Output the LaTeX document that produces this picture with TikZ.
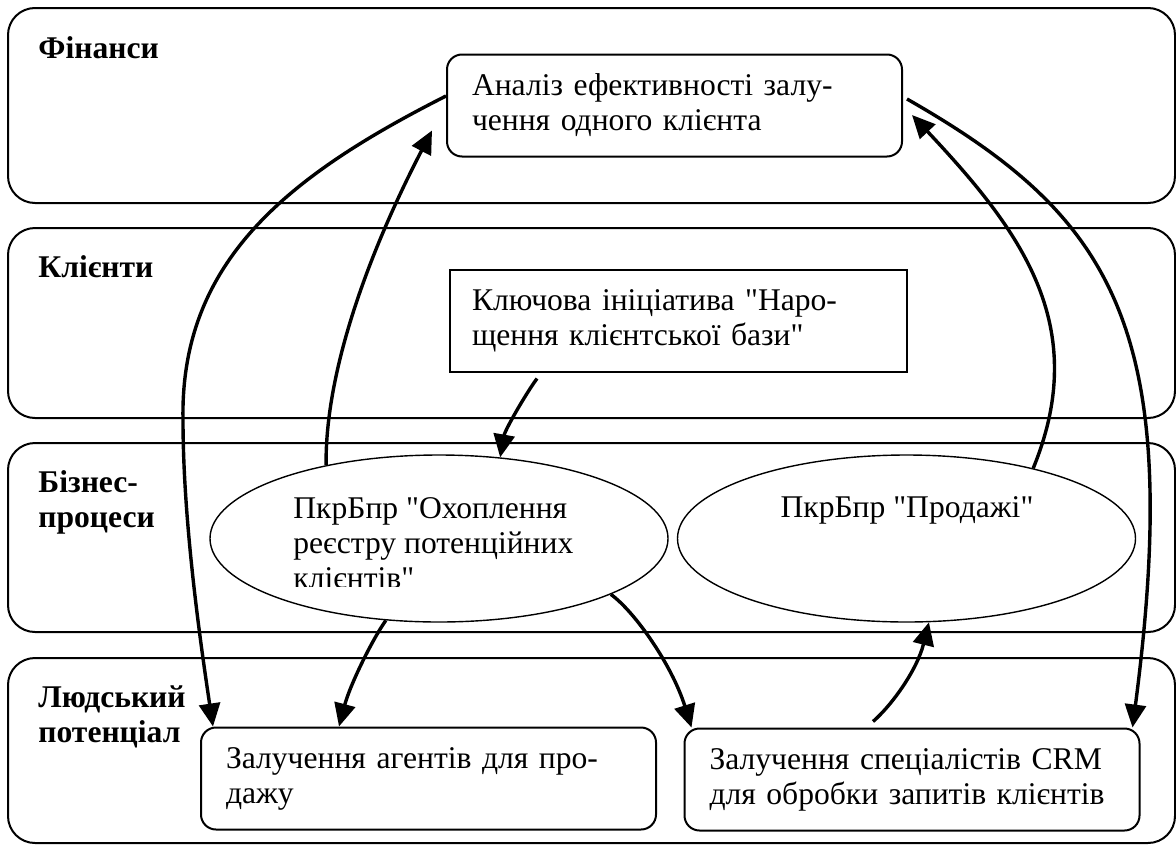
\documentclass[tikz,border=0pt]{standalone}
\usepackage{fontspec}
\setmainfont{Liberation Serif}[Ligatures=TeXOff]
\usepackage{tikz}
\usetikzlibrary{positioning,arrows.meta,shapes.geometric}

\def\txtsize{\fontsize{15.8}{17.5}\selectfont}
\tikzset{
  lane/.style={draw, line width=1pt, rounded corners=13.5pt},
  lanename/.style={anchor=base west, inner sep=0pt, align=left, font=\txtsize\bfseries},
  goal/.style={draw, line width=1pt, rounded corners=7.5pt, inner xsep=12.5pt,
    text width=202.5pt, minimum height=51pt, align=left, font=\txtsize},
  initiative/.style={goal, rounded corners=0pt, inner xsep=11pt, text width=206.5pt},
  process/.style={ellipse, draw, line width=0.7pt, minimum width=229pt,
    minimum height=83.5pt, inner sep=0pt},
  flow/.style={-{Triangle[length=11.5pt,width=10.5pt]}, line width=1.7pt}
}

\begin{document}
\begin{tikzpicture}[x=0.5pt,y=-0.5pt]
\useasboundingbox (0,0) rectangle (1176,846);
  \draw[lane] (8,8) rectangle (1175,203);
  \draw[lane] (8,228) rectangle (1175,418);
  \draw[lane] (8,443) rectangle (1175,632);
  \draw[lane] (8,658) rectangle (1175,843);
  \node[lanename] (finLbl) at (38,58) {Фінанси};
  \node[lanename] (cliLbl) at (38,277) {Клієнти};
  \node[lanename] (bpLbl) at (38,527) {Бізнес-\\процеси};
  \node[lanename] (hrLbl) at (38,742) {Людський\\потенціал};

  \node[goal] (fin) at (674.5,105.5) {Аналіз ефективності залу-\\чення одного клієнта};
  \node[initiative] (key) at (678.5,320.5) {Ключова ініціатива "Наро-\\щення клієнтської бази"};
  \node[process] (ell1) at (439,538.5) {};
  \node[process] (ell2) at (906.5,538.5) {};
  \begin{scope}
    \clip (200,440) rectangle (680,586);
    \node[anchor=base west, inner sep=0pt, align=left, font=\txtsize] (ell1txt) at (293,588)
      {ПкрБпр "Охоплення\\реєстру потенційних\\клієнтів"};
  \end{scope}
  \node[anchor=base, inner sep=0pt, font=\txtsize] (ell2txt) at (907,517) {ПкрБпр "Продажі"};
  \node[goal] (agent) at (428.5,778.5) {Залучення агентів для про-\\дажу};
  \node[goal] (crm) at (912,779.5) {Залучення спеціалістів CRM\\для обробки запитів клієнтів};

  \draw[flow] ([yshift=4.75pt]fin.west) .. controls (290,175) and (180,260) .. (183,420)
    .. controls (183,520) and (200,640) .. ([xshift=6.5pt]agent.north west);
  \draw[flow] (ell1.147) .. controls (325,370) and (370,250) .. ([xshift=-7pt,yshift=13.5pt]fin.south west);
  \draw[flow] ([xshift=44pt,yshift=-3pt]key.south west) .. controls (525,395) and (505,430) .. (ell1.53);
  \draw[flow] (ell1.237) .. controls (372,640) and (350,685) .. ([xshift=-44.75pt]agent.north);
  \draw[flow] (ell1.342) .. controls (635,612) and (672,665) .. ([xshift=4pt]crm.north west);
  \draw[flow] ([xshift=-19.5pt,yshift=3pt]crm.north) .. controls (892,705) and (917,670) .. (ell2.285);
  \draw[flow] (ell2.29) .. controls (1092,325) and (1020,230) .. ([xshift=4.5pt,yshift=-4.75pt]fin.east);
  \draw[flow] ([xshift=2pt,yshift=3.25pt]fin.east) .. controls (1110,215) and (1185,325) .. ([xshift=-4pt]crm.north east);
\end{tikzpicture}
\end{document}
